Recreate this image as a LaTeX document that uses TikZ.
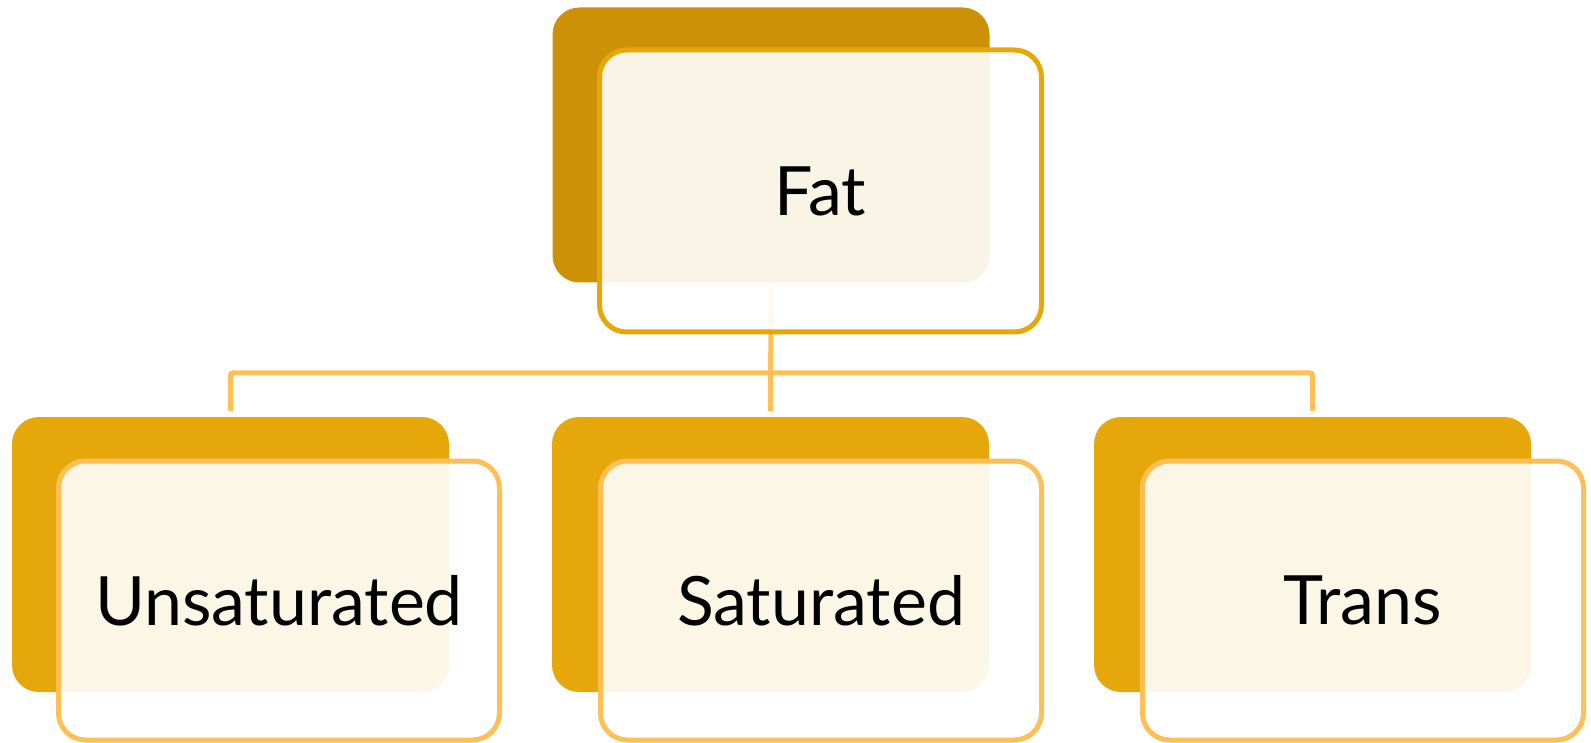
\documentclass[tikz,border=0pt]{standalone}
\usepackage{fontspec}
\setmainfont{Lato}
\definecolor{darkgold}{HTML}{CC9106}
\definecolor{gold}{HTML}{E6A70A}
\definecolor{lightgold}{HTML}{FFBF57}
\begin{document}
\begin{tikzpicture}[x=1pt,y=-1pt,
  backbox/.style={rectangle, rounded corners=27pt, minimum width=437pt, minimum height=275pt, inner sep=0pt, outer sep=0pt},
  frontbox/.style={rectangle, rounded corners=27pt, minimum width=441pt, minimum height=279pt, inner sep=0pt, outer sep=0pt, line width=5pt, fill=white, fill opacity=0.9, text opacity=1, font=\fontsize{68}{80}\selectfont},
  conn/.style={draw=lightgold, line width=5pt, rounded corners=2pt}]
\useasboundingbox (0,0) rectangle (1591,743);
% back boxes
\node[backbox, fill=darkgold] (tb) at (771,145) {};
\node[backbox, fill=gold] (lb) at (230.5,554.5) {};
\node[backbox, fill=gold] (mb) at (770.5,554.5) {};
\node[backbox, fill=gold] (rb) at (1312.5,554.5) {};
\coordinate (j) at (771,373);
% connectors
\draw[conn] ([yshift=6pt]lb.north) |- (j) -| ([yshift=6pt]rb.north);
\draw[conn] ([yshift=-5pt]tb.south) -- ([yshift=6pt]mb.north);
% front boxes
\node[frontbox, draw=gold, minimum width=442pt, minimum height=282pt] (tf) at (820.5,191) {Fat};
\node[frontbox, draw=lightgold] (lf) at (279,600.5) {Unsaturated};
\node[frontbox, draw=lightgold] (mf) at (821,600.5) {Saturated};
\node[frontbox, draw=lightgold] (rf) at (1363,600.5) {Trans};
\end{tikzpicture}
\end{document}
